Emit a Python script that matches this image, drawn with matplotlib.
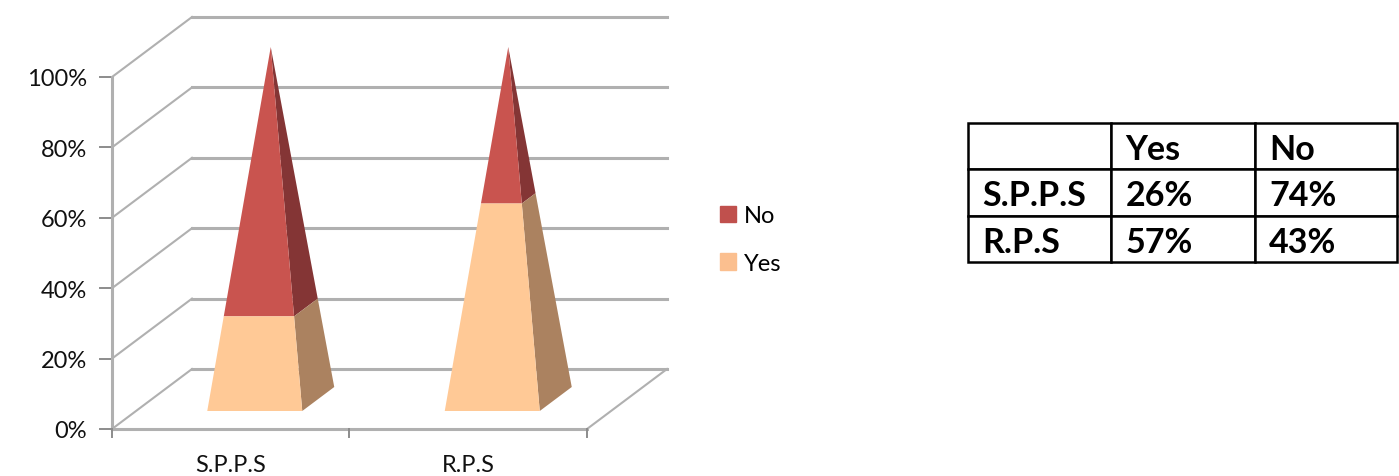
import matplotlib.pyplot as plt
from matplotlib.patches import Patch, Polygon

plt.rcParams["font.family"] = ["Lato", "DejaVu Sans"]

# Datos de la grafica y de la tabla
categorias = ["S.P.P.S", "R.P.S"]
valores_yes = [26, 57]
valores_no = [74, 43]
marcas_y = [0, 20, 40, 60, 80, 100]
tabla_columnas = ["", "Yes", "No"]

ANCHO, ALTO = 1399, 477
COLOR_GRID = "#B0B0B0"
COLOR_TICK = "#8C8C8C"
COLOR_NO = ("#C9544F", "#843535")
COLOR_YES = ("#FFC996", "#AB8260")

# Escala en pixeles de la grafica
PX_X = 237.5
PX_Y = 3.52
ORIGEN_X, ORIGEN_Y = 112, 47

# Perspectiva: desplazamiento del fondo y medidas de la piramide
FONDO_X = 80 / PX_X
FONDO_Y = 60 / PX_Y
MITAD_ANCHO = 0.2
MITAD_FONDO = 0.2
CENTRO_FONDO = 0.5


def proyectar(x, y, fondo):
    return x + fondo * FONDO_X, y + fondo * FONDO_Y


def seccion(centro, valor):
    # Esquinas visibles de la piramide a la altura "valor"
    escala = 1 - valor / 100
    frente = CENTRO_FONDO - MITAD_FONDO * escala
    atras = CENTRO_FONDO + MITAD_FONDO * escala
    izquierda = centro - MITAD_ANCHO * escala
    derecha = centro + MITAD_ANCHO * escala
    return (
        proyectar(izquierda, valor, frente),
        proyectar(derecha, valor, frente),
        proyectar(derecha, valor, atras),
    )


def dibujar_tramo(ax, centro, desde, hasta, colores):
    abajo = seccion(centro, desde)
    arriba = seccion(centro, hasta)
    ax.add_patch(
        Polygon([abajo[0], abajo[1], arriba[1], arriba[0]], color=colores[0], lw=0, zorder=4)
    )
    ax.add_patch(
        Polygon([abajo[1], abajo[2], arriba[2], arriba[1]], color=colores[1], lw=0, zorder=3)
    )


fig = plt.figure(figsize=(ANCHO / 100, ALTO / 100), dpi=100)
ax = fig.add_axes([0, 0, 1, 1])
ax.set_xlim(-ORIGEN_X / PX_X, (ANCHO - ORIGEN_X) / PX_X)
ax.set_ylim(-ORIGEN_Y / PX_Y, (ALTO - ORIGEN_Y) / PX_Y)
ax.axis("off")

n = len(categorias)

# Paredes y lineas de division
for marca in marcas_y:
    x0, y0 = proyectar(0, marca, 0)
    x1, y1 = proyectar(0, marca, 1)
    x2, y2 = proyectar(n, marca, 1)
    ax.plot([x0, x1], [y0, y1], color=COLOR_GRID, lw=1.5, zorder=1)
    ax.plot([x1, x2], [y1, y2], color=COLOR_GRID, lw=2.2, zorder=1)
    ax.plot([x0 - 12 / PX_X, x0], [y0, y0], color=COLOR_TICK, lw=1.4, zorder=2)
    ax.text(
        x0 - 25 / PX_X, marca - 2 / PX_Y, f"{marca}%",
        ha="right", va="center", fontsize=17, color="#111111",
    )

ax.plot([0, 0], [0, 100], color=COLOR_GRID, lw=2.2, zorder=2)
ax.plot([0, n], [0, 0], color=COLOR_GRID, lw=2.2, zorder=2)
x3, y3 = proyectar(n, 0, 1)
ax.plot([n, x3], [0, y3], color=COLOR_GRID, lw=1.5, zorder=1)

for i in range(n + 1):
    ax.plot([i, i], [0, -8 / PX_Y], color=COLOR_TICK, lw=1.4, zorder=2)

# Piramides apiladas
for i, categoria in enumerate(categorias):
    centro = i + 0.5
    dibujar_tramo(ax, centro, valores_yes[i], 100, COLOR_NO)
    dibujar_tramo(ax, centro, 0, valores_yes[i], COLOR_YES)
    ax.text(centro, -36 / PX_Y, categoria, ha="center", va="center", fontsize=17, color="#111111")

leyenda = ax.legend(
    handles=[Patch(color="#C0504D", label="No"), Patch(color="#FBBF8F", label="Yes")],
    loc="center left",
    bbox_to_anchor=(720 / ANCHO, 1 - 240.5 / ALTO),
    frameon=False,
    fontsize=17,
    handlelength=0.68,
    handleheight=0.68,
    handletextpad=0.35,
    labelspacing=1.13,
    borderpad=0,
    borderaxespad=0,
)

# Tabla de la derecha
ax_tabla = fig.add_axes([968 / ANCHO, 1 - 263 / ALTO, 429 / ANCHO, 139 / ALTO])
ax_tabla.axis("off")
filas = [tabla_columnas]
for i, categoria in enumerate(categorias):
    filas.append([categoria, f"{valores_yes[i]}%", f"{valores_no[i]}%"])
tabla = ax_tabla.table(cellText=filas, bbox=[0, 0, 1, 1], colWidths=[143, 144, 142], cellLoc="left")
tabla.auto_set_font_size(False)
for celda in tabla.get_celld().values():
    celda.set_linewidth(1.8)
    celda.set_edgecolor("black")
    celda.PAD = 0.1
    celda.get_text().set_fontsize(24.5)
    celda.get_text().set_fontweight("bold")
    celda.get_text().set_verticalalignment("center_baseline")

fig.savefig("out.png", dpi=100)
plt.close(fig)
